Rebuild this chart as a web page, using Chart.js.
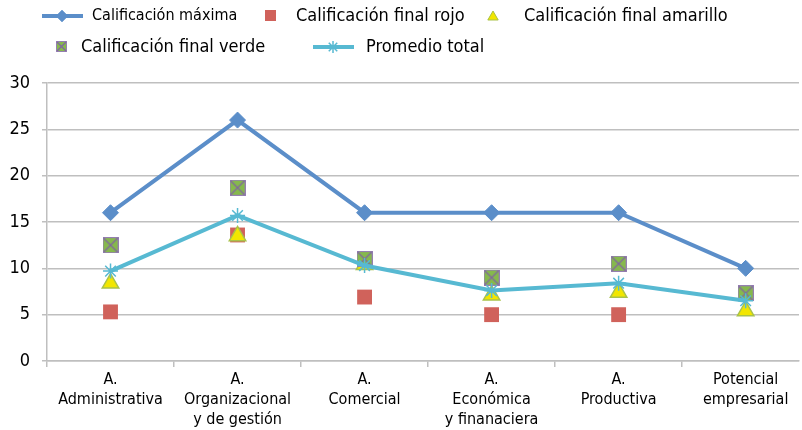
<!DOCTYPE html>
<html>
<head>
<meta charset="utf-8">
<script src="https://cdn.jsdelivr.net/npm/chart.js@4/dist/chart.umd.min.js"></script>
<style>
html, body { margin: 0; padding: 0; overflow: hidden; background: #fff; }
</style>
</head>
<body>
<canvas id="chart" width="802" height="430"></canvas>
<script>
var categories = [
    ['A.', 'Administrativa'],
    ['A.', 'Organizacional', 'y de gestión'],
    ['A.', 'Comercial'],
    ['A.', 'Económica', 'y finanaciera'],
    ['A.', 'Productiva'],
    ['Potencial', 'empresarial']
];
var maxima = [16, 26, 16, 16, 16, 10];
var rojo = [5.3, 13.6, 6.9, 5.0, 5.0, 7.3];
var amarillo = [8.4, 13.5, 10.4, 7.1, 7.4, 5.4];
var verde = [12.5, 18.7, 11.0, 9.0, 10.5, 7.3];
var promedio = [9.7, 15.7, 10.3, 7.6, 8.4, 6.5];
var yTicks = [0, 5, 10, 15, 20, 25, 30];

var FONT = "'Liberation Sans Narrow', 'DejaVu Sans Condensed', 'Liberation Sans', sans-serif";

// category index -> point
function pts(arr) {
    return arr.map(function (v, i) { return { x: i, y: v }; });
}

// green square with a purple cross, like the spreadsheet marker
function greenMark(size) {
    var c = document.createElement('canvas');
    c.width = size; c.height = size;
    var g = c.getContext('2d');
    g.fillStyle = '#86b94c';
    g.fillRect(0, 0, size, size);
    g.strokeStyle = '#9580b0';
    g.lineWidth = 1;
    g.strokeRect(0.5, 0.5, size - 1, size - 1);
    g.beginPath();
    g.moveTo(1, 1); g.lineTo(size - 1, size - 1);
    g.moveTo(size - 1, 1); g.lineTo(1, size - 1);
    g.strokeStyle = '#8064a2';
    g.lineWidth = 1.2;
    g.stroke();
    return c;
}
var greenBig = greenMark(16);
var greenSmall = greenMark(11);

var legendPlugin = {
    id: 'manualLegend',
    afterDraw: function (chart) {
        var ctx = chart.ctx;
        var dp = Chart.helpers.drawPoint;
        ctx.save();
        ctx.textBaseline = 'middle';
        ctx.fillStyle = '#000';

        // row 1
        ctx.strokeStyle = '#5b8ec9'; ctx.lineWidth = 4;
        ctx.beginPath(); ctx.moveTo(42, 16); ctx.lineTo(83, 16); ctx.stroke();
        ctx.fillStyle = '#5b8ec9';
        ctx.beginPath(); dp(ctx, { pointStyle: 'rectRot', radius: 6, rotation: 0 }, 62, 16); ctx.fill();
        ctx.fillStyle = '#000';
        ctx.font = '16px ' + FONT;
        ctx.fillText('Calificación máxima', 92, 16);

        ctx.fillStyle = '#d0625b';
        ctx.fillRect(265, 10, 11, 11);
        ctx.fillStyle = '#000';
        ctx.font = '18px ' + FONT;
        ctx.fillText('Calificación final rojo', 296, 16);

        ctx.fillStyle = '#f2e600'; ctx.strokeStyle = '#a9c24a'; ctx.lineWidth = 1;
        ctx.beginPath(); dp(ctx, { pointStyle: 'triangle', radius: 6, rotation: 0 }, 493, 17); ctx.fill(); ctx.stroke();
        ctx.fillStyle = '#000';
        ctx.fillText('Calificación final amarillo', 524, 16);

        // row 2
        ctx.drawImage(greenSmall, 56, 41);
        ctx.fillText('Calificación final verde', 81, 47);

        ctx.strokeStyle = '#57b9d2'; ctx.lineWidth = 4;
        ctx.beginPath(); ctx.moveTo(313, 47); ctx.lineTo(354, 47); ctx.stroke();
        ctx.lineWidth = 1.5;
        ctx.beginPath(); dp(ctx, { pointStyle: 'star', radius: 6, rotation: 0 }, 333, 47); ctx.stroke();
        ctx.fillText('Promedio total', 366, 47);
        ctx.restore();
    }
};

var ctx = document.getElementById('chart').getContext('2d');
var chart = new Chart(ctx, {
    type: 'scatter',
    data: {
        datasets: [{
            label: 'Calificación máxima',
            data: pts(maxima),
            showLine: true,
            borderColor: '#5b8ec9',
            backgroundColor: '#5b8ec9',
            borderWidth: 4,
            pointStyle: 'rectRot',
            pointRadius: 8,
            pointBorderWidth: 1,
            order: 5
        }, {
            label: 'Calificación final rojo',
            data: pts(rojo),
            borderColor: '#d0625b',
            backgroundColor: '#d0625b',
            pointStyle: 'rect',
            pointRadius: 10.5,
            pointBorderWidth: 0,
            order: 4
        }, {
            label: 'Calificación final amarillo',
            data: pts(amarillo),
            borderColor: '#a9c24a',
            backgroundColor: '#f2e600',
            pointStyle: 'triangle',
            pointRadius: 9.5,
            pointBorderWidth: 1.5,
            order: 3
        }, {
            label: 'Calificación final verde',
            data: pts(verde),
            borderColor: '#86b94c',
            backgroundColor: '#86b94c',
            pointStyle: greenBig,
            order: 2
        }, {
            label: 'Promedio total',
            data: pts(promedio),
            showLine: true,
            borderColor: '#57b9d2',
            backgroundColor: '#57b9d2',
            borderWidth: 4,
            pointStyle: 'star',
            pointRadius: 7.5,
            pointBorderWidth: 1.5,
            order: 1
        }]
    },
    options: {
        responsive: false,
        animation: false,
        layout: {
            autoPadding: false,
            padding: { top: 83, right: 3, left: 0, bottom: 0 }
        },
        plugins: {
            legend: { display: false },
            tooltip: { enabled: false }
        },
        elements: { line: { tension: 0 } },
        scales: {
            x: {
                type: 'linear',
                min: -0.5,
                max: 5.42, // the last category runs past the right edge, as in the original
                afterBuildTicks: function (s) {
                    s.ticks = categories.map(function (c, i) { return { value: i }; });
                },
                grid: {
                    offset: true,
                    drawOnChartArea: false,
                    drawTicks: true,
                    tickLength: 6,
                    color: '#bfbfbf',
                    lineWidth: 1.5
                },
                border: { color: '#bfbfbf', width: 1.5 },
                ticks: {
                    color: '#000',
                    maxRotation: 0,
                    autoSkip: false,
                    padding: 3,
                    font: { family: FONT, size: 16, lineHeight: 1.25 },
                    callback: function (v) { return categories[v]; }
                },
                afterFit: function (s) {
                    s.height = 69;
                    s.paddingLeft = 0;
                    s.paddingRight = 0;
                }
            },
            y: {
                min: 0,
                max: 30,
                afterBuildTicks: function (s) { s.ticks = yTicks.map(function (v) { return { value: v }; }); },
                grid: {
                    color: '#bfbfbf',
                    lineWidth: 1.5,
                    tickLength: 5
                },
                border: { color: '#bfbfbf', width: 1.5 },
                ticks: {
                    color: '#000',
                    padding: 12,
                    font: { family: FONT, size: 18 }
                },
                afterFit: function (s) { s.width = 47; }
            }
        }
    },
    plugins: [legendPlugin]
});
</script>
</body>
</html>
